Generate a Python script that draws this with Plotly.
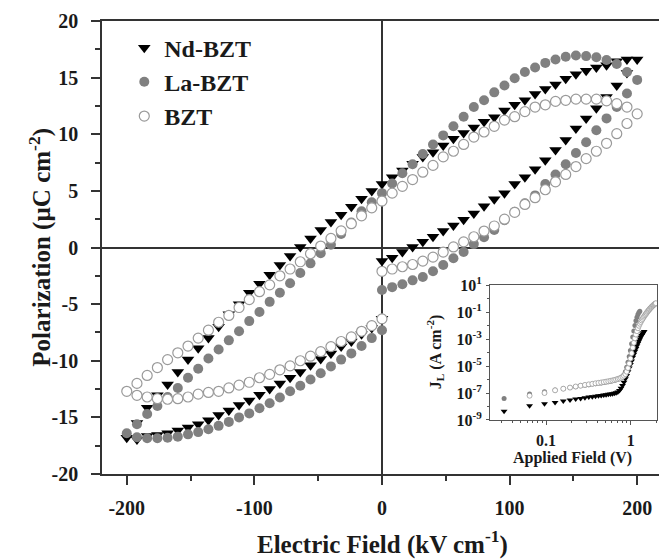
import plotly.graph_objects as go

# ---- P-E hysteresis sweep (kV/cm) ----
E_rise = [0, 8, 16, 24, 32, 40, 48, 56, 64, 72, 80, 88, 96, 104, 112, 120, 128,
          136, 144, 152, 160, 168, 176, 184, 192, 200]
E_fall = [192, 184, 176, 168, 160, 152, 144, 136, 128, 120, 112, 104, 96, 88, 80,
          72, 64, 56, 48, 40, 32, 24, 16, 8, 0, -8, -16, -24, -32, -40, -48, -56,
          -64, -72, -80, -88, -96, -104, -112, -120, -128, -136, -144, -152, -160,
          -168, -176, -184, -192, -200]
E_return = [-192, -184, -176, -168, -160, -152, -144, -136, -128, -120, -112, -104,
            -96, -88, -80, -72, -64, -56, -48, -40, -32, -24, -16, -8, 0]

# Polarization (uC/cm^2) for each branch
nd_rise = [-1.2, -0.9, -0.4, 0.05, 0.5, 0.95, 1.45, 1.95, 2.45, 3.0, 3.65, 4.25, 4.8,
           5.6, 6.2, 6.9, 7.7, 8.6, 9.5, 10.5, 11.4, 12.3, 13.3, 14.3, 15.4, 16.6]
nd_fall = [16.6, 16.45, 16.1, 15.9, 15.6, 15.3, 14.9, 14.4, 14.0, 13.55, 13.0, 12.6,
           12.1, 11.5, 11.1, 10.6, 10.1, 9.6, 9.0, 8.4, 8.0, 7.4, 6.8, 6.2, 5.6, 5.0,
           4.3, 3.6, 2.9, 2.25, 1.55, 0.8, 0.05, -0.75, -1.55, -2.4, -3.2, -4.0, -5.0,
           -5.9, -7.0, -8.0, -8.9, -9.9, -11.0, -12.1, -13.05, -14.15, -15.5, -16.8]
nd_return = [-16.95, -16.65, -16.55, -16.4, -16.15, -15.9, -15.6, -15.25, -14.8,
             -14.4, -13.9, -13.5, -13.0, -12.5, -12.0, -11.5, -11.0, -10.4, -9.85,
             -9.35, -8.75, -8.3, -7.65, -7.1, -6.3]

la_rise = [-3.75, -3.5, -3.25, -2.9, -2.6, -2.1, -1.55, -0.95, -0.4, 0.3, 0.9, 1.55,
           2.4, 3.15, 3.9, 4.6, 5.6, 6.45, 7.35, 8.35, 9.3, 10.35, 11.4, 12.4, 13.6, 14.8]
la_fall = [15.5, 16.2, 16.55, 16.8, 16.9, 16.95, 16.85, 16.6, 16.3, 15.9, 15.5, 14.95,
           14.3, 13.7, 13.0, 12.4, 11.55, 10.7, 9.9, 9.1, 8.25, 7.35, 6.55, 5.65, 4.8,
           4.0, 3.2, 2.2, 1.2, 0.25, -0.5, -1.4, -2.25, -3.15, -4.0, -4.8, -5.7, -6.5,
           -7.4, -8.2, -9.0, -9.8, -10.7, -11.5, -12.4, -13.2, -14.0, -14.7, -15.6, -16.4]
la_return = [-16.75, -16.85, -16.85, -16.8, -16.7, -16.5, -16.3, -16.05, -15.75, -15.4,
             -15.0, -14.65, -14.2, -13.75, -13.25, -12.7, -12.2, -11.65, -11.1, -10.5,
             -9.9, -9.35, -8.7, -8.0, -7.3]

bzt_rise = [-2.1, -1.9, -1.7, -1.5, -1.2, -0.85, -0.4, 0.05, 0.5, 0.95, 1.45, 1.9, 2.5,
            3.1, 3.8, 4.4, 5.1, 5.8, 6.45, 7.15, 7.85, 8.5, 9.2, 10.05, 10.95, 11.8]
bzt_fall = [12.4, 12.7, 12.95, 13.1, 13.1, 13.1, 13.0, 12.9, 12.6, 12.4, 12.0, 11.55,
            11.25, 10.7, 10.2, 9.75, 9.1, 8.5, 8.0, 7.25, 6.65, 6.0, 5.4, 4.8, 4.1, 3.5,
            2.8, 2.1, 1.47, 0.8, 0.13, -0.55, -1.26, -1.9, -2.5, -3.3, -3.9, -4.6, -5.3,
            -6.0, -6.6, -7.3, -8.0, -8.7, -9.3, -9.9, -10.6, -11.3, -12.0, -12.7]
bzt_return = [-13.05, -13.2, -13.35, -13.4, -13.35, -13.2, -12.95, -12.8, -12.7, -12.4,
              -12.15, -11.9, -11.5, -11.2, -10.8, -10.45, -10.0, -9.6, -9.2, -8.75,
              -8.3, -7.9, -7.4, -6.9, -6.3]

# Axis tick positions and their labels (plain hyphen minus signs)
E_ticks = [-200, -100, 0, 100, 200]
E_ticklabels = ["-200", "-100", "0", "100", "200"]
P_ticks = [-20, -15, -10, -5, 0, 5, 10, 15, 20]
P_ticklabels = ["-20", "-15", "-10", "-5", "0", "5", "10", "15", "20"]

# ---- Leakage current (inset) ----
V_bias = [0.032, 0.064, 0.096, 0.128, 0.16, 0.192, 0.224, 0.256, 0.288, 0.32, 0.352,
          0.384, 0.416, 0.448, 0.48, 0.512, 0.544, 0.576, 0.608, 0.64, 0.672, 0.704,
          0.736, 0.768, 0.8, 0.832, 0.864, 0.896, 0.928, 0.96, 0.992, 1.024, 1.056,
          1.088, 1.12, 1.152, 1.184, 1.216, 1.248, 1.28, 1.312, 1.344, 1.376, 1.408,
          1.44, 1.472, 1.504, 1.536, 1.568, 1.6, 1.632, 1.664, 1.696, 1.728, 1.76,
          1.792, 1.824, 1.856, 1.888, 1.92, 1.952, 1.984]
# log10 of J_L (A/cm^2)
nd_logJ = [-8.35, -7.95, -7.8, -7.7, -7.6, -7.52, -7.45, -7.4, -7.35, -7.3, -7.27,
           -7.24, -7.21, -7.18, -7.15, -7.12, -7.1, -7.07, -7.05, -7.02, -6.98, -6.92,
           -6.82, -6.65, -6.45, -6.2, -5.95, -5.7, -5.42, -5.15, -4.88, -4.62, -4.36,
           -4.12, -3.9, -3.7, -3.5, -3.32, -3.15, -3.0, -2.86, -2.74, -2.63, -2.53, -2.45]
la_logJ = [-7.4, -7.07, -6.9, -6.78, -6.68, -6.6, -6.53, -6.47, -6.42, -6.38, -6.34,
           -6.31, -6.28, -6.25, -6.22, -6.19, -6.16, -6.13, -6.1, -6.06, -6.02, -5.98,
           -5.93, -5.87, -5.8, -5.65, -5.42, -5.1, -4.72, -4.3, -3.85, -3.35, -2.85,
           -2.4, -2.0, -1.65, -1.38, -1.18, -1.04, -0.94]
bzt_logJ = [-7.2, -7.0, -6.8, -6.68, -6.6, -6.52, -6.46, -6.4, -6.36, -6.32, -6.28,
            -6.25, -6.22, -6.19, -6.16, -6.13, -6.1, -6.07, -6.04, -6.0, -5.96, -5.92,
            -5.87, -5.8, -5.72, -5.6, -5.42, -5.15, -4.82, -4.45, -4.05, -3.65, -3.28,
            -2.95, -2.67, -2.42, -2.2, -2.02, -1.87, -1.74, -1.62, -1.52, -1.42, -1.33,
            -1.24, -1.16, -1.08, -1.0, -0.93, -0.86, -0.8, -0.74, -0.68, -0.63, -0.58,
            -0.53, -0.49, -0.45, -0.41, -0.38, -0.35]

SERIF = "Liberation Serif"
INK = "#1a1a1a"
AX = "#333333"

E_all = E_rise + E_fall + E_return
series = [
    ("Nd-BZT", nd_rise + nd_fall + nd_return,
     dict(symbol="triangle-down", size=11, color="#000000", line=dict(width=0))),
    ("La-BZT", la_rise + la_fall + la_return,
     dict(symbol="circle", size=10, color="#808080", line=dict(width=0))),
    ("BZT", bzt_rise + bzt_fall + bzt_return,
     dict(symbol="circle", size=10, color="#ffffff", line=dict(width=1.2, color="#9a9a9a"))),
]

fig = go.Figure()
for name, pol, mk in series:
    fig.add_trace(go.Scatter(x=E_all, y=pol, mode="markers", name=name, marker=mk,
                             xaxis="x", yaxis="y"))

# inset: leakage current density vs applied field
inset = [
    (V_bias[:len(nd_logJ)], nd_logJ,
     dict(symbol="triangle-down", size=6, color="#000000", line=dict(width=0))),
    (V_bias[:len(la_logJ)], la_logJ,
     dict(symbol="circle", size=5, color="#808080", line=dict(width=0))),
    (V_bias[1:1 + len(bzt_logJ)], bzt_logJ,
     dict(symbol="circle", size=5, color="#ffffff", line=dict(width=0.8, color="#9a9a9a"))),
]
for v, lj, mk in inset:
    fig.add_trace(go.Scatter(x=v, y=[10 ** e for e in lj], mode="markers", marker=mk,
                             showlegend=False, xaxis="x2", yaxis="y2"))

tickfont = dict(family=SERIF, size=20, color=INK, weight="bold")
small_font = dict(family=SERIF, size=16, color=INK, weight="bold")

fig.update_layout(
    width=659, height=560,
    margin=dict(l=102, r=0, t=21, b=86),
    paper_bgcolor="white", plot_bgcolor="white",
    showlegend=True,
    legend=dict(x=0.04, y=0.99, xanchor="left", yanchor="top",
                font=dict(family=SERIF, size=24, color=INK, weight="bold"),
                bgcolor="rgba(0,0,0,0)", tracegroupgap=0, itemsizing="trace"),
    xaxis=dict(domain=[0, 1], range=[-219.4, 217.1],
               tickvals=E_ticks, ticktext=E_ticklabels, tickfont=tickfont,
               ticks="outside", ticklen=9, tickwidth=1.5, tickcolor=AX,
               ticklabelstandoff=6,
               minor=dict(tickvals=[-150, -50, 50, 150], ticks="outside", ticklen=5,
                          tickwidth=1.5, tickcolor=AX),
               showline=True, linecolor=AX, linewidth=1.6, mirror=True,
               showgrid=False, zeroline=True, zerolinecolor=AX, zerolinewidth=1.6),
    yaxis=dict(domain=[0, 1], range=[-20, 20],
               tickvals=P_ticks, ticktext=P_ticklabels, tickfont=tickfont,
               ticks="outside", ticklen=9, tickwidth=1.5, tickcolor=AX,
               ticklabelstandoff=9,
               minor=dict(tickvals=[-17.5, -12.5, -7.5, -2.5, 2.5, 7.5, 12.5, 17.5],
                          ticks="outside", ticklen=5, tickwidth=1.5, tickcolor=AX),
               showline=True, linecolor=AX, linewidth=1.6, mirror=False,
               showgrid=False, zeroline=True, zerolinecolor=AX, zerolinewidth=1.6),
    xaxis2=dict(type="log", domain=[0.6966, 0.9964], anchor="y2", range=[-1.661, 0.31],
                tickvals=[0.1, 1], ticktext=["0.1", "1"], tickfont=small_font,
                ticks="outside", ticklen=4, tickwidth=1, tickcolor="#555",
                ticklabelstandoff=2,
                minor=dict(tickvals=[0.03, 0.04, 0.05, 0.06, 0.07, 0.08, 0.09, 0.2, 0.3,
                                     0.4, 0.5, 0.6, 0.7, 0.8, 0.9, 2],
                           ticks="outside", ticklen=2, tickwidth=1, tickcolor="#555"),
                showline=True, linecolor="#555", linewidth=1, mirror=True,
                showgrid=False, zeroline=False),
    yaxis2=dict(type="log", domain=[0.1192, 0.4172], anchor="x2", range=[-9, 1],
                tickvals=[1e1, 1e-1, 1e-3, 1e-5, 1e-7, 1e-9],
                ticktext=["10<sup>1</sup>", "10<sup>-1</sup>", "10<sup>-3</sup>",
                          "10<sup>-5</sup>", "10<sup>-7</sup>", "10<sup>-9</sup>"],
                tickfont=small_font,
                ticks="outside", ticklen=3, tickwidth=1, tickcolor="#555",
                ticklabelstandoff=1,
                minor=dict(tickvals=[1e0, 1e-2, 1e-4, 1e-6, 1e-8],
                           ticks="outside", ticklen=2, tickwidth=1, tickcolor="#555"),
                showline=True, linecolor="#555", linewidth=1, mirror=True,
                showgrid=False, zeroline=False),
    annotations=[
        dict(text="<b>Polarization (µC cm<sup>-2</sup>)</b>", x=-0.111, y=0.5,
             xref="paper", yref="paper", textangle=-90, showarrow=False,
             xanchor="center", yanchor="middle",
             font=dict(family=SERIF, size=25, color=INK)),
        dict(text="<b>Electric Field (kV cm<sup>-1</sup>)</b>", x=0.5027, y=-0.152,
             xref="paper", yref="paper", showarrow=False,
             xanchor="center", yanchor="middle",
             font=dict(family=SERIF, size=25, color=INK)),
        dict(text="<b>J<sub>L</sub> (A cm<sup>-2</sup>)</b>", x=0.598, y=0.269,
             xref="paper", yref="paper", textangle=-90, showarrow=False,
             xanchor="center", yanchor="middle",
             font=dict(family=SERIF, size=16, color=INK)),
        dict(text="<b>Applied Field (V)</b>", x=0.8456, y=0.0353,
             xref="paper", yref="paper", showarrow=False,
             xanchor="center", yanchor="middle",
             font=dict(family=SERIF, size=16, color=INK)),
    ],
)

fig.write_html("out.html")
